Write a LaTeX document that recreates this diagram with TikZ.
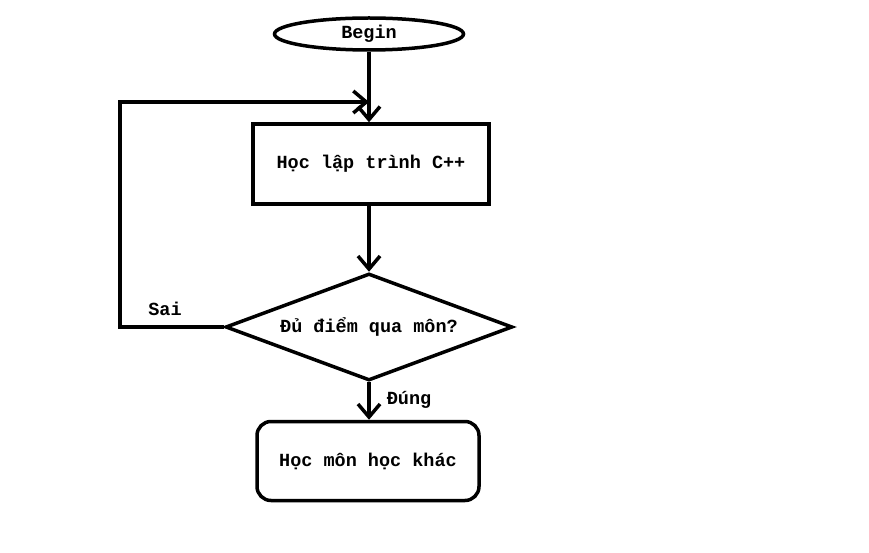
\documentclass[tikz,border=0pt]{standalone}
\usepackage{fontspec}
\setmainfont{Liberation Mono}
\usetikzlibrary{shapes.geometric,arrows.meta}
\tikzset{
  base/.style={draw=black, line width=3.5pt, font=\fontsize{18.5}{20}\selectfont\bfseries, inner sep=0pt, align=center},
  startend/.style={base, ellipse, minimum width=189pt, minimum height=32pt},
  process/.style={base, rectangle, minimum width=236pt, minimum height=80pt},
  decision/.style={base, diamond, aspect=2.68, minimum width=287pt, minimum height=107pt},
  endbox/.style={base, rectangle, rounded corners=14pt, minimum width=222pt, minimum height=79pt},
  lbl/.style={font=\fontsize{18.5}{20}\selectfont\bfseries, inner sep=0pt},
  arr/.style={line width=3.5pt, -{Straight Barb[length=13pt,width=22pt,line width=3.5pt]}},
}
\begin{document}
\begin{tikzpicture}[x=1pt,y=-1pt]
\useasboundingbox (0,0) rectangle (869,553);
\fill[white] (0,0) rectangle (869,553);
\node[startend] (begin) at (369,34) {Begin};
\node[process] (learn) at (371,164) {Học lập trình C++};
\node[decision] (check) at (369,327) {Đủ điểm qua môn?};
\node[endbox] (other) at (368,461) {Học môn học khác};
\coordinate (join) at (369,102);
\coordinate (corner) at (120,327);
\draw[arr] (begin.south) -- (begin.south |- learn.north);
\draw[arr] (begin.south |- learn.south) -- (check.north);
\draw[arr] (check.south) -- (check.south |- other.north);
\draw[arr] (check.west) -- (corner) |- (join);
\node[lbl] (sai) at (165,309) {Sai};
\node[lbl] (dung) at (409,400) {Đúng};
\end{tikzpicture}
\end{document}
